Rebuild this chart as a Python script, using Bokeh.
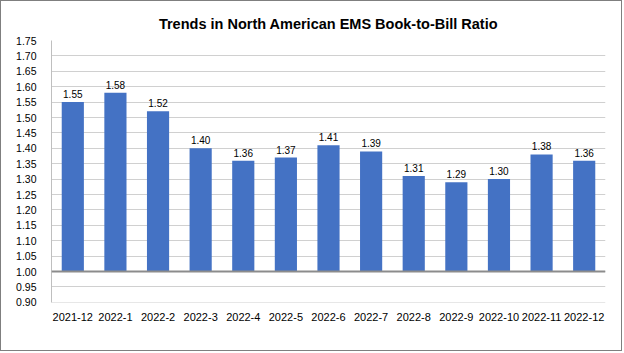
from bokeh.plotting import figure
from bokeh.models import (ColumnDataSource, Span, FactorRange, FixedTicker, LabelSet, Title,
                          CustomJSTickFormatter, Range1d)
from bokeh.core.properties import value
from bokeh.embed import file_html
from bokeh.resources import INLINE

months = ["2021-12", "2022-1", "2022-2", "2022-3", "2022-4", "2022-5", "2022-6",
          "2022-7", "2022-8", "2022-9", "2022-10", "2022-11", "2022-12"]
ratios = [1.55, 1.58, 1.52, 1.40, 1.36, 1.37, 1.41, 1.39, 1.31, 1.29, 1.30, 1.38, 1.36]
baseline = 1.00
y_ticks = [0.90 + 0.05 * i for i in range(18)]

FONT = "Liberation Sans"

src = ColumnDataSource(dict(
    m=months, r=ratios, b=[baseline] * len(months),
    lbl=[f"{v:.2f}" for v in ratios]))

p = figure(width=622, height=351, x_range=FactorRange(*months, range_padding=0),
           y_range=Range1d(0.8995, 1.75), output_backend="svg", toolbar_location=None,
           min_border_left=50, min_border_right=18, min_border_top=39, min_border_bottom=50)
p.styles = {"border": "1px solid #7f7f7f"}

t = Title(text="Trends in North American EMS Book-to-Bill Ratio", align="center",
          text_font=FONT, text_font_size="14.5px", text_font_style="bold", text_color="#000000",
          standoff=18)
p.add_layout(t, "above")

p.vbar(x="m", top="r", bottom="b", width=0.52, source=src, color="#4472C4", line_color=None)

labels = LabelSet(x="m", y="r", text="lbl", source=src, text_align="center",
                  text_baseline="bottom", y_offset=4, text_font=value(FONT),
                  text_font_size=value("10px"), text_color="#000000")
p.add_layout(labels)

p.add_layout(Span(location=baseline, dimension="width", line_color="#8c8c8c", line_width=2))

p.outline_line_color = None
p.xgrid.grid_line_color = None
p.ygrid.grid_line_color = "#d0d0d0"
p.ygrid.grid_line_width = 1
p.yaxis.ticker = FixedTicker(ticks=y_ticks)
p.yaxis.formatter = CustomJSTickFormatter(code="return tick.toFixed(2);")
p.yaxis.axis_line_color = "#bfbfbf"
p.yaxis.major_tick_line_color = None
p.yaxis.minor_tick_line_color = None
p.yaxis.major_label_standoff = 9
p.yaxis.major_label_text_font = FONT
p.yaxis.major_label_text_font_size = "10.5px"
p.yaxis.major_label_text_color = "#000000"

p.xaxis.axis_line_color = None
p.xaxis.major_tick_line_color = None
p.xaxis.minor_tick_line_color = None
p.xaxis.major_label_standoff = 4
p.xaxis.major_label_text_font = FONT
p.xaxis.major_label_text_font_size = "11px"
p.xaxis.major_label_text_color = "#000000"

open("out.html", "w").write(file_html(p, INLINE))
